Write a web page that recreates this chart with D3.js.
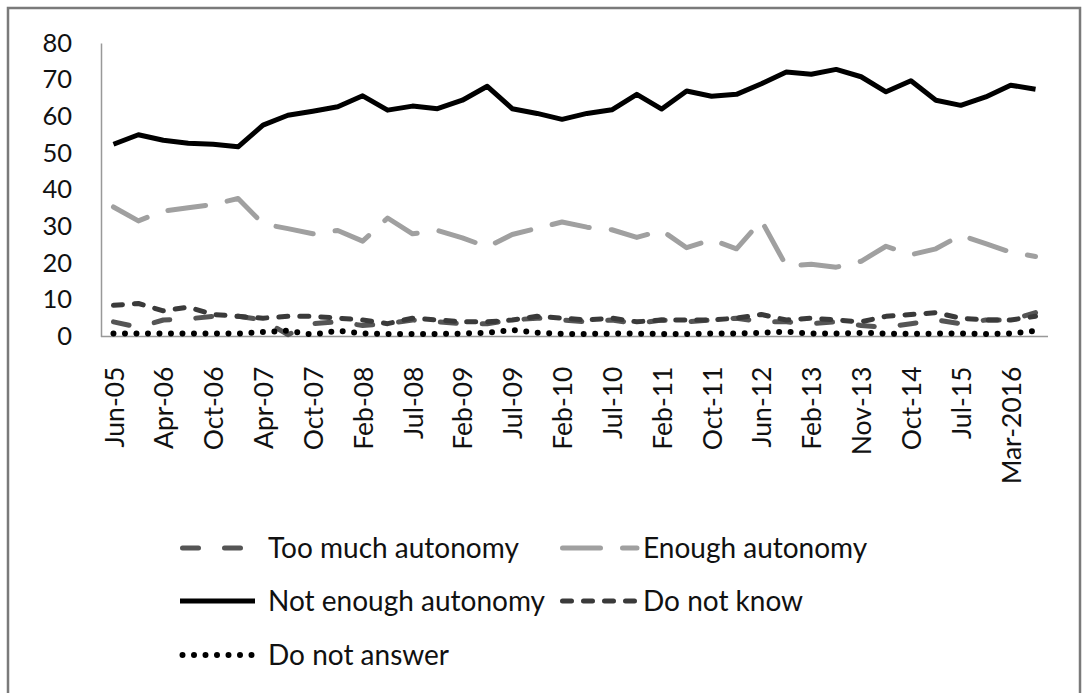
<!DOCTYPE html>

<head>
  <meta charset="utf-8">
  <title>Autonomy survey lines</title>
  <style>
    body {
      margin: 0;
      background: #fff;
    }

    text {
      font-family: Lato, "Open Sans", sans-serif;
      fill: #111;
    }
  </style>
</head>

<body>
  <div id="chart"></div>

  <script src="https://d3js.org/d3.v7.min.js"></script>
  <script>

    // survey waves (every second one is labelled on the axis)
    const categories = ["Jun-05", "Nov-05", "Apr-06", "Jul-06", "Oct-06", "Jan-07", "Apr-07", "Jul-07",
      "Oct-07", "Dec-07", "Feb-08", "Apr-08", "Jul-08", "Nov-08", "Feb-09", "Apr-09", "Jul-09", "Nov-09",
      "Feb-10", "Apr-10", "Jul-10", "Oct-10", "Feb-11", "Jun-11", "Oct-11", "Feb-12", "Jun-12", "Oct-12",
      "Feb-13", "Jun-13", "Nov-13", "Mar-14", "Oct-14", "Mar-15", "Jul-15", "Nov-15", "Mar-2016", "Jul-2016"];

    const xTickLabels = ["Jun-05", "Apr-06", "Oct-06", "Apr-07", "Oct-07", "Feb-08", "Jul-08", "Feb-09",
      "Jul-09", "Feb-10", "Jul-10", "Feb-11", "Oct-11", "Jun-12", "Feb-13", "Nov-13", "Oct-14", "Jul-15", "Mar-2016"];

    const yTicks = [0, 10, 20, 30, 40, 50, 60, 70, 80];

    const tooMuch = [4.0, 2.5, 4.5, 4.8, 5.5, 5.5, 4.5, 0.5, 3.5, 4.0, 3.0, 3.5, 4.5, 4.0, 3.5, 3.5, 4.5, 5.0, 4.5,
      4.0, 4.5, 3.5, 4.5, 4.0, 4.5, 5.0, 4.0, 4.0, 3.5, 4.0, 3.0, 2.5, 3.5, 4.5, 3.5, 4.5, 4.5, 6.5];

    const enough = [35.3, 31.5, 34.2, 35.1, 36.0, 37.6, 30.7, 29.4, 28.0, 28.9, 26.0, 32.3, 28.0, 28.9, 26.9, 24.4,
      27.8, 29.5, 31.2, 29.8, 29.1, 27.0, 28.9, 24.2, 26.4, 23.9, 31.6, 19.2, 19.7, 18.9, 20.5, 24.6, 22.3, 23.9,
      27.6, 25.3, 23.0, 21.8];

    const notEnough = [52.4, 55.0, 53.5, 52.7, 52.4, 51.7, 57.6, 60.3, 61.4, 62.6, 65.6, 61.7, 62.8, 62.1, 64.4,
      68.2, 62.1, 60.8, 59.2, 60.8, 61.8, 66.0, 62.0, 66.9, 65.5, 66.0, 68.9, 72.1, 71.5, 72.8, 70.8, 66.7, 69.7,
      64.4, 63.0, 65.3, 68.5, 67.4];

    const dontKnow = [8.5, 9.0, 7.0, 8.0, 6.0, 5.5, 5.0, 5.5, 5.5, 5.0, 4.5, 3.5, 5.0, 4.5, 4.0, 4.0, 4.5, 5.5, 5.0,
      4.5, 5.0, 4.0, 4.5, 4.5, 4.5, 5.0, 6.0, 4.5, 5.0, 4.5, 4.0, 5.5, 6.0, 6.5, 5.0, 4.5, 4.5, 5.5];

    const noAnswer = [0.8, 0.8, 0.8, 0.8, 0.8, 0.8, 1.2, 1.6, 0.5, 1.6, 0.8, 0.7, 0.7, 0.7, 0.8, 1.0, 1.8, 1.0, 0.7,
      0.7, 0.8, 0.8, 0.7, 0.7, 0.8, 0.8, 1.0, 1.3, 0.8, 0.8, 1.0, 0.8, 0.7, 0.8, 0.8, 0.7, 0.8, 1.5];

    const series = [
      { name: "Too much autonomy", values: tooMuch, color: "#555", dash: "16,26", w: 5 },
      { name: "Enough autonomy", values: enough, color: "#a0a0a0", dash: "38,22", w: 5 },
      { name: "Not enough autonomy", values: notEnough, color: "#000", dash: null, w: 5 },
      { name: "Do not know", values: dontKnow, color: "#3a3a3a", dash: "9,12", w: 5 },
      { name: "Do not answer", values: noAnswer, color: "#000", dash: "0,11.5", w: 6 }
    ];

    const width = 1085,
      height = 693;

    const svg = d3.select('#chart')
      .append('svg')
      .attr('width', width)
      .attr('height', height);

    // outer frame, bottom edge runs off the picture
    svg.append('rect')
      .attr('x', 8).attr('y', 8)
      .attr('width', 1072).attr('height', 720)
      .attr('fill', 'none')
      .attr('stroke', '#7a7a7a')
      .attr('stroke-width', 2.5);

    const x = d3.scalePoint()
      .domain(categories)
      .range([101, 1048])
      .padding(0.5);

    const y = d3.scaleLinear()
      .domain([0, 80])
      .range([336.5, 43]);

    // y axis
    const yAxis = svg.append('g')
      .attr('transform', 'translate(101,0)')
      .call(d3.axisLeft(y).tickValues(yTicks).tickSize(0).tickPadding(29));
    yAxis.select('.domain').attr('stroke', '#999').attr('stroke-width', 1.5);
    yAxis.selectAll('text')
      .attr('font-family', 'Lato, sans-serif')
      .attr('font-size', 25.5)
      .attr('fill', '#111');

    // x axis
    const xAxis = svg.append('g')
      .attr('transform', 'translate(0,336.5)')
      .call(d3.axisBottom(x).tickValues(xTickLabels).tickSize(0).tickSizeOuter(0));
    xAxis.select('.domain')
      .attr('d', `M${x.range()[0]},0H${x.range()[1]}`)
      .attr('stroke', '#999').attr('stroke-width', 1.5);
    xAxis.selectAll('text')
      .attr('font-family', 'Lato, sans-serif')
      .attr('font-size', 26.5)
      .attr('fill', '#111')
      .attr('text-anchor', 'end')
      .attr('transform', 'translate(0,30) rotate(-90)')
      .attr('x', 0)
      .attr('y', 0)
      .attr('dy', '0.36em');

    const line = d3.line()
      .x((d, i) => x(categories[i]))
      .y(d => y(d));

    svg.append('g')
      .selectAll('path')
      .data(series)
      .join('path')
      .attr('d', d => line(d.values))
      .attr('fill', 'none')
      .attr('stroke', d => d.color)
      .attr('stroke-width', d => d.w)
      .attr('stroke-linecap', d => d.dash ? 'round' : 'butt')
      .attr('stroke-linejoin', 'round')
      .attr('stroke-dasharray', d => d.dash);

    // legend, three rows
    const legendPos = [
      { x: 180, y: 548, tx: 268 },
      { x: 560, y: 548, tx: 643 },
      { x: 180, y: 601, tx: 268 },
      { x: 560, y: 601, tx: 643 },
      { x: 180, y: 655, tx: 268 }
    ];

    const legend = svg.append('g')
      .selectAll('g')
      .data(series)
      .join('g');

    legend.append('line')
      .attr('x1', (d, i) => legendPos[i].x + (d.dash ? 2.5 : 0))
      .attr('x2', (d, i) => legendPos[i].tx - (i % 2 ? 6 : 13))
      .attr('y1', (d, i) => legendPos[i].y)
      .attr('y2', (d, i) => legendPos[i].y)
      .attr('stroke', d => d.color)
      .attr('stroke-width', d => d.w)
      .attr('stroke-linecap', d => d.dash ? 'round' : 'butt')
      .attr('stroke-dasharray', d => d.dash);

    legend.append('text')
      .attr('x', (d, i) => legendPos[i].tx)
      .attr('y', (d, i) => legendPos[i].y)
      .attr('dy', '0.35em')
      .attr('font-size', 28)
      .text(d => d.name);

  </script>
</body>

</html>
